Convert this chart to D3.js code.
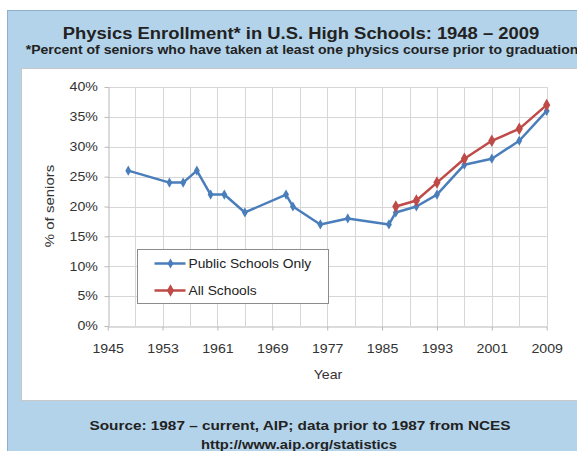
<!DOCTYPE html>
<html>
<head>
<meta charset="utf-8">
<script src="https://cdn.jsdelivr.net/npm/d3@7"></script>
<style>
  body { margin: 0; background: #fff; }
  text { font-family: Arial, "Liberation Sans", sans-serif; }
</style>
</head>
<body>
<script>
// chart data
const publicYears = [1948, 1954, 1956, 1958, 1960, 1962, 1965, 1971, 1972, 1976, 1980, 1986, 1987, 1990, 1993, 1997, 2001, 2005, 2009]
const publicValues = [26, 24, 24, 26, 22, 22, 19, 22, 20, 17, 18, 17, 19, 20, 22, 27, 28, 31, 36]
const allYears = [1987, 1990, 1993, 1997, 2001, 2005, 2009]
const allValues = [20, 21, 24, 28, 31, 33, 37]
const xTicks = [1945, 1953, 1961, 1969, 1977, 1985, 1993, 2001, 2009]
const yTicks = [0, 5, 10, 15, 20, 25, 30, 35, 40]
const seriesNames = ['Public Schools Only', 'All Schools']

const width = 577
const height = 451
const stretch = 1.18   // the original picture is stretched sideways
const blue = '#4a7ebb'
const red = '#be4b48'

const svg = d3.select('body').append('svg').attr('width', width).attr('height', height)

// outer panel and white chart area
svg.append('rect').attr('x', 7.5).attr('y', 10.5).attr('width', 600).attr('height', 460)
   .attr('fill', '#b3d3ea').attr('stroke', '#8eb0cb')
svg.append('rect').attr('x', 21.5).attr('y', 68.5).attr('width', 600).attr('height', 332)
   .attr('fill', '#fff').attr('stroke', '#c8c8c8')

// stretched text helper
const label = (x, y, str, opts = {}) => {
  const k = opts.stretch || stretch
  const g = svg.append('g').attr('transform', 'translate(' + x + ',' + y + ')' + (opts.rotate ? ' rotate(-90)' : ''))
  g.append('text')
   .attr('transform', 'scale(' + k + ',1)')
   .attr('text-anchor', opts.anchor || 'middle')
   .attr('font-size', opts.size || 12)
   .attr('font-weight', opts.bold ? 'bold' : 'normal')
   .attr('fill', opts.fill || '#222')
   .text(str)
}

label(301, 39, 'Physics Enrollment* in U.S. High Schools: 1948 \u2013 2009', {size: 15.6, bold: true})
label(302, 54, '*Percent of seniors who have taken at least one physics course prior to graduation', {size: 11.9, bold: true})
label(300, 430, 'Source: 1987 \u2013 current, AIP; data prior to 1987 from NCES', {size: 13, bold: true})
label(299, 449, 'http://www.aip.org/statistics', {size: 12.5, bold: true})

const x = d3.scaleLinear().domain([1945, 2009]).range([107.7, 546.7])
const y = d3.scaleLinear().domain([0, 40]).range([326, 87])

// gridlines
const grid = svg.append('g').attr('stroke', '#d6d6d6').attr('stroke-width', 1)
grid.selectAll('.vg').data(d3.range(1949, 2010, 4)).enter().append('line')
    .attr('x1', d => Math.round(x(d)) + 0.5).attr('x2', d => Math.round(x(d)) + 0.5)
    .attr('y1', y(0)).attr('y2', y(40))
grid.selectAll('.hg').data(yTicks.slice(1)).enter().append('line')
    .attr('y1', d => Math.round(y(d)) + 0.5).attr('y2', d => Math.round(y(d)) + 0.5)
    .attr('x1', x(1945)).attr('x2', x(2009))

// axes
const xAxis = svg.append('g').attr('transform', 'translate(0,' + (Math.round(y(0)) + 0.5) + ')')
  .call(d3.axisBottom(x).tickValues(xTicks).tickFormat(d3.format('d')).tickSize(4).tickSizeOuter(0))
const yAxis = svg.append('g').attr('transform', 'translate(' + (Math.round(x(1945)) + 0.5) + ',0)')
  .call(d3.axisLeft(y).tickValues(yTicks).tickFormat(d => d + '%').tickSize(4).tickSizeOuter(0))

;[xAxis, yAxis].forEach(a => {
  a.select('.domain').attr('stroke', '#b8b8b8')
  a.selectAll('.tick line').attr('stroke', '#b8b8b8')
  a.selectAll('.tick text').attr('font-size', 12).attr('fill', '#333')
   .attr('font-family', 'Arial, "Liberation Sans", sans-serif')
   .attr('transform', 'scale(' + stretch + ',1)')
})
xAxis.selectAll('.tick text').attr('y', 17.5)
yAxis.selectAll('.tick text').attr('x', -9)

label(328, 379, 'Year', {size: 12, fill: '#333'})
label(54, 206, '% of seniors', {size: 12.5, fill: '#333', rotate: true, stretch: 1.2})

// series
const line = d3.line().x(d => x(d[0])).y(d => y(d[1]))
const series = [
  {pts: d3.zip(publicYears, publicValues), color: blue, size: 30},
  {pts: d3.zip(allYears, allValues), color: red, size: 45},
]
const diamond = d3.symbol().type(d3.symbolDiamond)

series.forEach(s => {
  svg.append('path').attr('d', line(s.pts)).attr('fill', 'none')
     .attr('stroke', s.color).attr('stroke-width', 2.5).attr('stroke-linejoin', 'round')
  svg.selectAll(null).data(s.pts).enter().append('path')
     .attr('d', diamond.size(s.size)())
     .attr('transform', d => 'translate(' + x(d[0]) + ',' + y(d[1]) + ')')
     .attr('fill', s.color)
})

// legend
const legend = svg.append('g').attr('transform', 'translate(137.5,249.5)')
legend.append('rect').attr('width', 191).attr('height', 54).attr('fill', '#fff').attr('stroke', '#8c8c8c')
series.forEach((s, i) => {
  const row = legend.append('g').attr('transform', 'translate(0,' + (14 + i * 27) + ')')
  row.append('line').attr('x1', 17).attr('x2', 48).attr('stroke', s.color).attr('stroke-width', 2.5)
  row.append('path').attr('d', diamond.size(s.size)()).attr('transform', 'translate(33,0)').attr('fill', s.color)
  row.append('g').attr('transform', 'translate(51,4)')
     .append('text').attr('font-size', 12).attr('fill', '#222')
     .attr('transform', 'scale(1.15,1)')
     .text(seriesNames[i])
})
</script>
</body>
</html>
